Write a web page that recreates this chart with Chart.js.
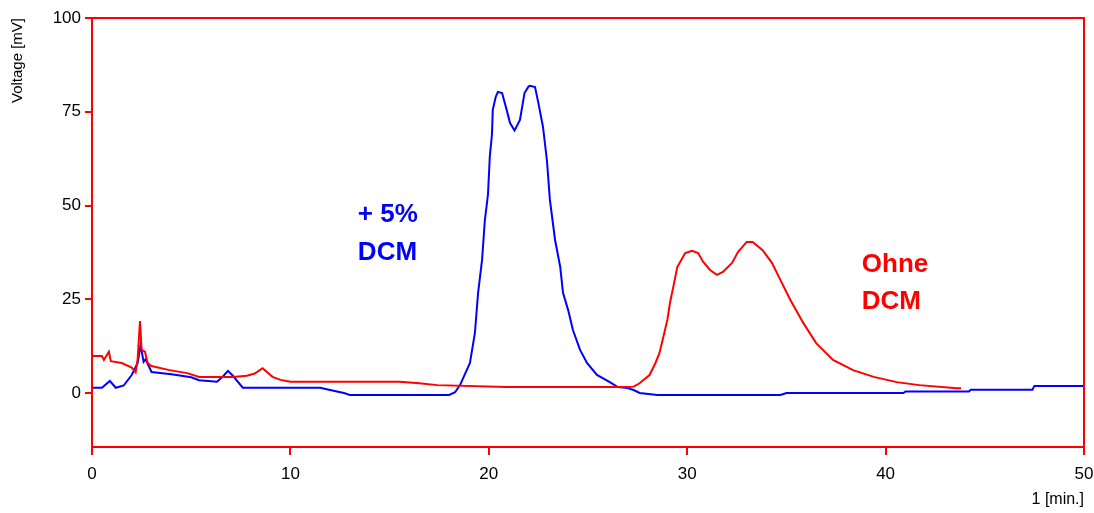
<!DOCTYPE html>
<html>
<head>
<meta charset="utf-8">
<script src="https://cdn.jsdelivr.net/npm/chart.js@4.4.1/dist/chart.umd.min.js"></script>
<style>
  html, body { margin: 0; padding: 0; background: #fff; }
  #wrap { width: 1094px; height: 513px; }
</style>
</head>
<body>
<div id="wrap"><canvas id="chart" width="1094" height="513"></canvas></div>
<script>
// retention time [min]
const blueTime = [0, 0.5, 0.9, 1.2, 1.6, 2.0, 2.3, 2.45, 2.6, 2.7, 3.0, 4.0, 5.0, 5.4, 6.3, 6.6, 6.85, 7.1, 7.6, 11.5, 12.0, 12.7, 13.0,
  18.0, 18.3, 18.55, 19.05, 19.3, 19.46, 19.66, 19.8, 19.96, 20.05, 20.16, 20.2, 20.35, 20.46, 20.67, 20.9, 21.07, 21.3, 21.57, 21.8, 22.0, 22.08, 22.33,
  22.5, 22.73, 22.93, 23.08, 23.34, 23.6, 23.74, 24.0, 24.24, 24.6, 24.95, 25.45, 26.1, 26.5, 27.0, 27.3, 27.6, 28.5, 34.7, 35.0,
  40.9, 41.0, 44.2, 44.3, 47.4, 47.5, 50];
const blueVolt = [1.4, 1.4, 3.2, 1.4, 2.0, 4.8, 8.0, 12.8, 8.3, 9.0, 5.6, 5.0, 4.2, 3.4, 3.0, 4.4, 5.9, 4.6, 1.4, 1.4, 0.8, 0.0, -0.5,
  -0.5, 0.2, 2.1, 8.0, 16.0, 26.7, 35.5, 46.0, 53.0, 63.0, 69.0, 75.5, 79.0, 80.3, 80.0, 75.5, 72.0, 70.0, 72.8, 80.0, 81.7, 81.9, 81.6,
  77.3, 71.0, 62.0, 51.5, 40.8, 33.6, 26.7, 22.1, 16.8, 11.5, 8.0, 4.8, 2.9, 1.6, 1.3, 0.8, 0.0, -0.5, -0.5, 0.0,
  0.0, 0.4, 0.4, 0.9, 0.9, 1.9, 1.9];

const redTime = [0, 0.5, 0.6, 0.85, 0.95, 1.5, 2.0, 2.2, 2.3, 2.42, 2.5, 2.67, 2.8, 3.0, 3.9, 4.8, 5.4, 7.1, 7.8, 8.2, 8.6, 9.1, 9.5, 10.0,
  15.5, 16.5, 17.4, 20.9, 27.0, 27.3, 27.6, 28.1, 28.4, 28.6, 28.8, 29.0, 29.13, 29.3, 29.5, 29.9, 30.24, 30.55, 30.8, 31.15, 31.5,
  31.8, 32.26, 32.56, 33.0, 33.3, 33.8, 34.27, 34.7, 35.2, 35.85, 36.5, 37.35, 38.36, 39.4, 40.56, 41.7, 43.6, 43.8];
const redVolt = [9.9, 9.9, 8.8, 11.0, 8.5, 8.0, 6.8, 5.5, 9.0, 19.2, 11.5, 11.0, 8.0, 7.2, 6.1, 5.3, 4.3, 4.3, 4.6, 5.2, 6.6, 4.3, 3.5, 3.0,
  3.0, 2.6, 2.1, 1.6, 1.6, 1.7, 2.6, 4.8, 8.0, 10.6, 15.0, 19.5, 24.0, 28.3, 33.6, 37.3, 37.9, 37.3, 35.0, 32.8, 31.5,
  32.3, 34.7, 37.6, 40.3, 40.3, 38.1, 34.7, 30.1, 24.8, 18.7, 13.3, 8.8, 6.1, 4.3, 2.9, 2.1, 1.3, 1.3];

const yTicks = [0, 25, 50, 75, 100];
const xTicks = [0, 10, 20, 30, 40, 50];

const blueLabel = ["+ 5%", "DCM"];
const redLabel = ["Ohne", "DCM"];

const tickFont = { family: "'Liberation Sans', Arial, sans-serif", size: 17 };

function toPoints(xs, ys) {
  return xs.map((x, i) => ({ x: x, y: ys[i] }));
}

// red frame around plot area + the two text labels
const extras = {
  id: "extras",
  afterDraw(chart) {
    const { ctx, chartArea, scales } = chart;
    ctx.save();
    ctx.strokeStyle = "#ff0000";
    ctx.lineWidth = 2;
    ctx.strokeRect(chartArea.left, chartArea.top, chartArea.right - chartArea.left, chartArea.bottom - chartArea.top);

    ctx.font = "bold 26px 'Liberation Sans', Arial, sans-serif";
    ctx.textAlign = "left";
    ctx.textBaseline = "alphabetic";
    ctx.fillStyle = "#0000ff";
    ctx.fillText(blueLabel[0], scales.x.getPixelForValue(13.4), scales.y.getPixelForValue(45.6));
    ctx.fillText(blueLabel[1], scales.x.getPixelForValue(13.4), scales.y.getPixelForValue(35.5));
    ctx.fillStyle = "#ff0000";
    ctx.fillText(redLabel[0], scales.x.getPixelForValue(38.8), scales.y.getPixelForValue(32.3));
    ctx.fillText(redLabel[1], scales.x.getPixelForValue(38.8), scales.y.getPixelForValue(22.4));
    ctx.restore();
  }
};

new Chart(document.getElementById("chart"), {
  type: "line",
  data: {
    datasets: [
      {
        data: toPoints(redTime, redVolt),
        borderColor: "#ff0000",
        borderWidth: 2,
        pointRadius: 0,
        tension: 0
      },
      {
        data: toPoints(blueTime, blueVolt),
        borderColor: "#0000ff",
        borderWidth: 2,
        pointRadius: 0,
        tension: 0
      }
    ]
  },
  options: {
    responsive: false,
    animation: false,
    layout: { padding: { top: 18, right: 0, left: 0, bottom: 0 } },
    plugins: { legend: { display: false }, tooltip: { enabled: false } },
    scales: {
      x: {
        type: "linear",
        min: 0,
        max: 50,
        afterBuildTicks: s => { s.ticks = xTicks.map(v => ({ value: v })); },
        afterFit: s => { s.height = 66; s.paddingRight = 10; },
        grid: { drawOnChartArea: false, color: "#ff0000", tickLength: 8, lineWidth: 2 },
        border: { color: "#ff0000", width: 2 },
        ticks: { color: "#000", font: tickFont, padding: 9, maxRotation: 0 },
        title: {
          display: true,
          text: "1 [min.]",
          align: "end",
          color: "#000",
          font: { family: tickFont.family, size: 16 },
          padding: { top: 0, bottom: 4 }
        }
      },
      y: {
        min: -14.4,
        max: 100,
        afterBuildTicks: s => { s.ticks = yTicks.map(v => ({ value: v })); },
        afterFit: s => { s.width = 92; },
        grid: { drawOnChartArea: false, color: "#ff0000", tickLength: 7, lineWidth: 2 },
        border: { color: "#ff0000", width: 2 },
        ticks: { color: "#000", font: tickFont, padding: 4 },
        title: {
          display: true,
          text: "Voltage [mV]",
          align: "end",
          color: "#000",
          font: { family: tickFont.family, size: 15 },
          padding: { top: 9, bottom: 0 }
        }
      }
    }
  },
  plugins: [extras]
});
</script>
</body>
</html>
